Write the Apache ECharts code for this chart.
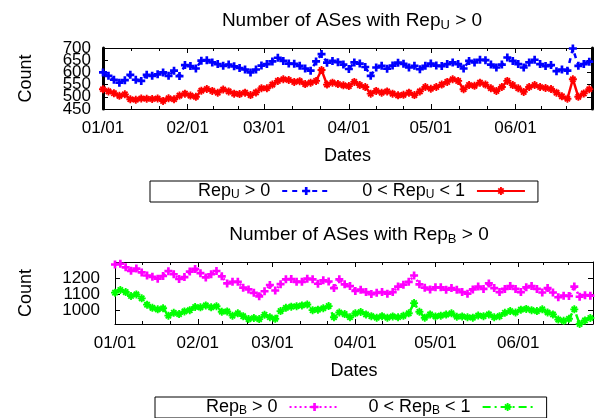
<!DOCTYPE html>
<html><head><meta charset="utf-8">
<script src="https://cdn.jsdelivr.net/npm/echarts@6/dist/echarts.min.js"></script>
<style>html,body{margin:0;padding:0;background:#fff}#c{width:595px;height:418px}</style>
</head><body><div id="c"></div>
<script>
// x positions: day offsets from 2013-01-01
const dayOffsets = [0,2,4,6,8,10,12,14,16,18,20,22,24,26,28,30,32,34,36,38,40,42,44,46,48,50,52,54,56,58,
60,62,64,66,68,70,72,74,76,78,80,82,84,86,88,90,92,94,96,98,100,102,104,106,108,110,112,114,116,118,
120,122,124,126,128,130,132,134,136,138,140,142,144,146,148,150,152,154,156,158,160,162,164,166,168,170,172,174,176,178];

const repU = [600,586,570,558,568,590,570,565,590,586,592,600,586,607,585,630,626,616,648,650,
641,634,627,632,625,618,612,600,612,628,634,645,660,647,636,635,627,616,607,645,
675,640,647,642,632,614,641,636,622,586,620,627,615,628,640,635,620,627,613,627,
636,628,626,634,641,634,616,647,641,652,650,632,620,632,661,647,634,620,641,652,
634,626,630,605,612,607,698,627,634,644];

const repUPartial = [531,522,515,504,510,490,488,493,492,491,493,483,494,490,505,513,505,500,525,532,
524,517,530,522,513,511,517,507,518,535,535,550,565,572,569,561,564,552,558,565,
610,550,558,552,547,544,561,548,540,513,524,517,522,513,506,508,517,507,522,540,
533,540,550,561,572,565,531,548,545,558,550,535,524,540,565,548,535,520,540,548,
540,536,532,517,502,492,572,500,514,531];

const repB = [1290,1295,1272,1250,1264,1240,1220,1212,1200,1217,1248,1228,1198,1210,1245,1262,1235,1208,1228,1249,
1215,1170,1180,1180,1143,1132,1110,1088,1120,1160,1125,1165,1196,1198,1180,1180,1200,1196,1168,1190,
1182,1140,1196,1164,1153,1122,1130,1115,1102,1110,1115,1105,1115,1150,1162,1180,1220,1164,1143,1132,
1145,1145,1130,1140,1130,1115,1105,1132,1150,1135,1170,1140,1115,1135,1153,1135,1115,1145,1153,1135,
1112,1140,1112,1082,1092,1090,1150,1085,1095,1092];

const repBPartial = [1111,1128,1115,1090,1100,1075,1035,1015,1005,1012,965,983,975,992,1000,1020,1018,1030,1018,1025,
990,992,965,980,962,943,950,943,970,955,945,994,1015,1022,1025,1030,1036,1000,1003,1012,
1026,955,985,975,955,980,988,973,962,952,962,952,960,955,964,980,1045,990,952,973,
960,965,972,980,958,960,955,952,966,962,973,955,962,983,994,985,1003,1008,1000,994,
1005,985,973,940,932,945,1005,912,935,950];

const seriesNames = ['Rep_U > 0', '0 < Rep_U < 1', 'Rep_B > 0', '0 < Rep_B < 1'];
const titles = ['Number of ASes with Rep_U > 0', 'Number of ASes with Rep_B > 0'];
const yTicksTop = [450, 500, 550, 600, 650, 700];
const yTicksBottom = [1000, 1100, 1200];

const font = "'Liberation Sans', Arial, Helvetica, sans-serif";
const toTime = d => new Date(2013, 0, 1 + d).getTime();
const xMin = new Date(2013, 0, 1).getTime();
const xMax = new Date(2013, 5, 29).getTime();
const pad = n => String(n).padStart(2, '0');
const fmtDate = v => { const d = new Date(v); return pad(d.getMonth() + 1) + '/' + pad(d.getDate()); };
const sub = s => s.replace(/_(\w)/, '{sub|$1}');
const evenIdx = arr => arr.filter((v, i) => i % 2 === 0);
const oddIdx = arr => arr.filter((v, i) => i % 2 === 1);

const rich = {
  sub: { fontSize: 12, fontFamily: font, color: '#000', padding: [8, 0, 0, 0] },
  g: { width: 7 }
};

const plusPath = 'path://M2,0H4V2H6V4H4V6H2V4H0V2H2Z';
const starPath = 'path://M2.3,0H3.7V6H2.3Z M0,2.3H6V3.7H0Z M0.5,1.5L1.5,0.5L5.5,4.5L4.5,5.5Z M4.5,0.5L5.5,1.5L1.5,5.5L0.5,4.5Z';

const chart = echarts.init(document.getElementById('c'), null, { renderer: 'canvas' });

function xAxes(grid, pos, showLabels) {
  return {
    gridIndex: grid, type: 'time', min: xMin, max: xMax, position: pos, splitNumber: 6,
    axisLine: { show: true, lineStyle: { color: '#000', width: 1 } },
    axisTick: { show: true, inside: true, length: 5, lineStyle: { color: '#000' } },
    minorTick: { show: true, splitNumber: 3, length: 3, lineStyle: { color: '#000' } },
    splitLine: { show: false },
    axisLabel: { show: showLabels, formatter: fmtDate, color: '#000', fontSize: 17, fontFamily: font,
      margin: 11, showMaxLabel: false, showMinLabel: true },
    name: showLabels ? 'Dates' : '', nameLocation: 'middle', nameGap: 38,
    nameTextStyle: { color: '#000', fontSize: 18, fontFamily: font }
  };
}

const yLabel = { color: '#000', fontSize: 17, fontFamily: font, showMinLabel: true, showMaxLabel: true,
  hideOverlap: false, formatter: v => String(v) };

// label-only helper axis (labels split across axes so none get hidden)
function labelAxis(grid, min, max, values, margin) {
  return { gridIndex: grid, type: 'value', min: min, max: max, position: 'left',
    splitLine: { show: false }, axisLine: { show: false }, axisTick: { show: false },
    axisLabel: Object.assign({}, yLabel, { margin: margin, customValues: values }) };
}

const tMin = yTicksTop[0], tMax = yTicksTop[yTicksTop.length - 1];
const bMin = 912, bMax = 1306;

const option = {
  animation: false,
  backgroundColor: '#fff',
  title: [
    { text: sub(titles[0]), left: 347, top: 5, textAlign: 'center',
      textStyle: { fontSize: 19, fontWeight: 'normal', color: '#000', fontFamily: font, rich: { sub: { fontSize: 13, fontFamily: font, color: '#000', padding: [9, 0, 0, 0] } } } },
    { text: sub(titles[1]), left: 354, top: 219, textAlign: 'center',
      textStyle: { fontSize: 19, fontWeight: 'normal', color: '#000', fontFamily: font, rich: { sub: { fontSize: 13, fontFamily: font, color: '#000', padding: [9, 0, 0, 0] } } } }
  ],
  grid: [
    { left: 103, right: 3, top: 48, height: 61 },
    { left: 115, right: 2, top: 262, height: 62 }
  ],
  legend: [
    { data: [seriesNames[0], seriesNames[1]], left: 150, top: 181, orient: 'horizontal', align: 'right',
      itemWidth: 48, itemHeight: 10, itemGap: 31, padding: [1, 12, 1, 48],
      borderColor: '#000', borderWidth: 1, borderRadius: 0,
      formatter: n => sub(n) + '{g|}',
      textStyle: { fontSize: 18, fontFamily: font, color: '#000', rich: rich } },
    { data: [seriesNames[2], seriesNames[3]], left: 155, top: 397, orient: 'horizontal', align: 'right',
      itemWidth: 50, itemHeight: 10, itemGap: 28, padding: [1, 13, 1, 51],
      borderColor: '#000', borderWidth: 1, borderRadius: 0,
      formatter: n => sub(n) + '{g|}',
      textStyle: { fontSize: 18, fontFamily: font, color: '#000', rich: rich } }
  ],
  xAxis: [xAxes(0, 'bottom', true), xAxes(0, 'top', false), xAxes(1, 'bottom', true), xAxes(1, 'top', false)],
  yAxis: [
    { gridIndex: 0, type: 'value', min: tMin, max: tMax, interval: 50, position: 'left',
      splitLine: { show: false },
      axisTick: { show: true, inside: true, length: 5, lineStyle: { color: '#000' } },
      axisLine: { show: true, lineStyle: { color: '#000', width: 3 } },
      axisLabel: { show: false },
      name: 'Count', nameLocation: 'middle', nameGap: 68, nameRotate: 90,
      nameTextStyle: { color: '#000', fontSize: 18, fontFamily: font } },
    { gridIndex: 0, type: 'value', min: tMin, max: tMax, interval: 50, position: 'right',
      splitLine: { show: false },
      axisTick: { show: true, inside: true, length: 5, lineStyle: { color: '#000' } },
      axisLine: { show: true, lineStyle: { color: '#000', width: 3 } }, axisLabel: { show: false } },
    { gridIndex: 1, type: 'value', min: bMin, max: bMax, position: 'left',
      splitLine: { show: false },
      axisLine: { show: true, lineStyle: { color: '#000', width: 1 } },
      axisTick: { show: true, inside: true, length: 5, lineStyle: { color: '#000' }, customValues: yTicksBottom },
      axisLabel: { show: false },
      name: 'Count', nameLocation: 'middle', nameGap: 80, nameRotate: 90,
      nameTextStyle: { color: '#000', fontSize: 18, fontFamily: font } },
    { gridIndex: 1, type: 'value', min: bMin, max: bMax, position: 'right',
      splitLine: { show: false },
      axisLine: { show: true, lineStyle: { color: '#000', width: 1 } },
      axisTick: { show: true, inside: true, length: 5, lineStyle: { color: '#000' }, customValues: yTicksBottom },
      axisLabel: { show: false } },
    labelAxis(0, tMin, tMax, evenIdx(yTicksTop), 12),
    labelAxis(0, tMin, tMax, oddIdx(yTicksTop), 12),
    labelAxis(1, bMin, bMax, evenIdx(yTicksBottom), 15),
    labelAxis(1, bMin, bMax, oddIdx(yTicksBottom), 15)
  ],
  series: [
    { name: seriesNames[0], type: 'line', xAxisIndex: 0, yAxisIndex: 0,
      data: dayOffsets.map((d, i) => [toTime(d), repU[i]]),
      symbol: plusPath, symbolSize: 8, showSymbol: true,
      itemStyle: { color: '#0000ff' }, lineStyle: { color: '#0000ff', width: 2.5, type: [5, 5] } },
    { name: seriesNames[1], type: 'line', xAxisIndex: 0, yAxisIndex: 0,
      data: dayOffsets.map((d, i) => [toTime(d), repUPartial[i]]),
      symbol: starPath, symbolSize: 8, showSymbol: true,
      itemStyle: { color: '#ff0000' }, lineStyle: { color: '#ff0000', width: 2.5, type: 'solid' } },
    { name: seriesNames[2], type: 'line', xAxisIndex: 2, yAxisIndex: 2,
      data: dayOffsets.map((d, i) => [toTime(d), repB[i]]),
      symbol: plusPath, symbolSize: 8, showSymbol: true,
      itemStyle: { color: '#ff00ff' }, lineStyle: { color: '#ff00ff', width: 2.5, type: [2, 3] } },
    { name: seriesNames[3], type: 'line', xAxisIndex: 2, yAxisIndex: 2,
      data: dayOffsets.map((d, i) => [toTime(d), repBPartial[i]]),
      symbol: starPath, symbolSize: 8, showSymbol: true,
      itemStyle: { color: '#00ff00' }, lineStyle: { color: '#00ff00', width: 2.5, type: [8, 4, 2, 4] } }
  ]
};
chart.setOption(option);
</script>
</body></html>
